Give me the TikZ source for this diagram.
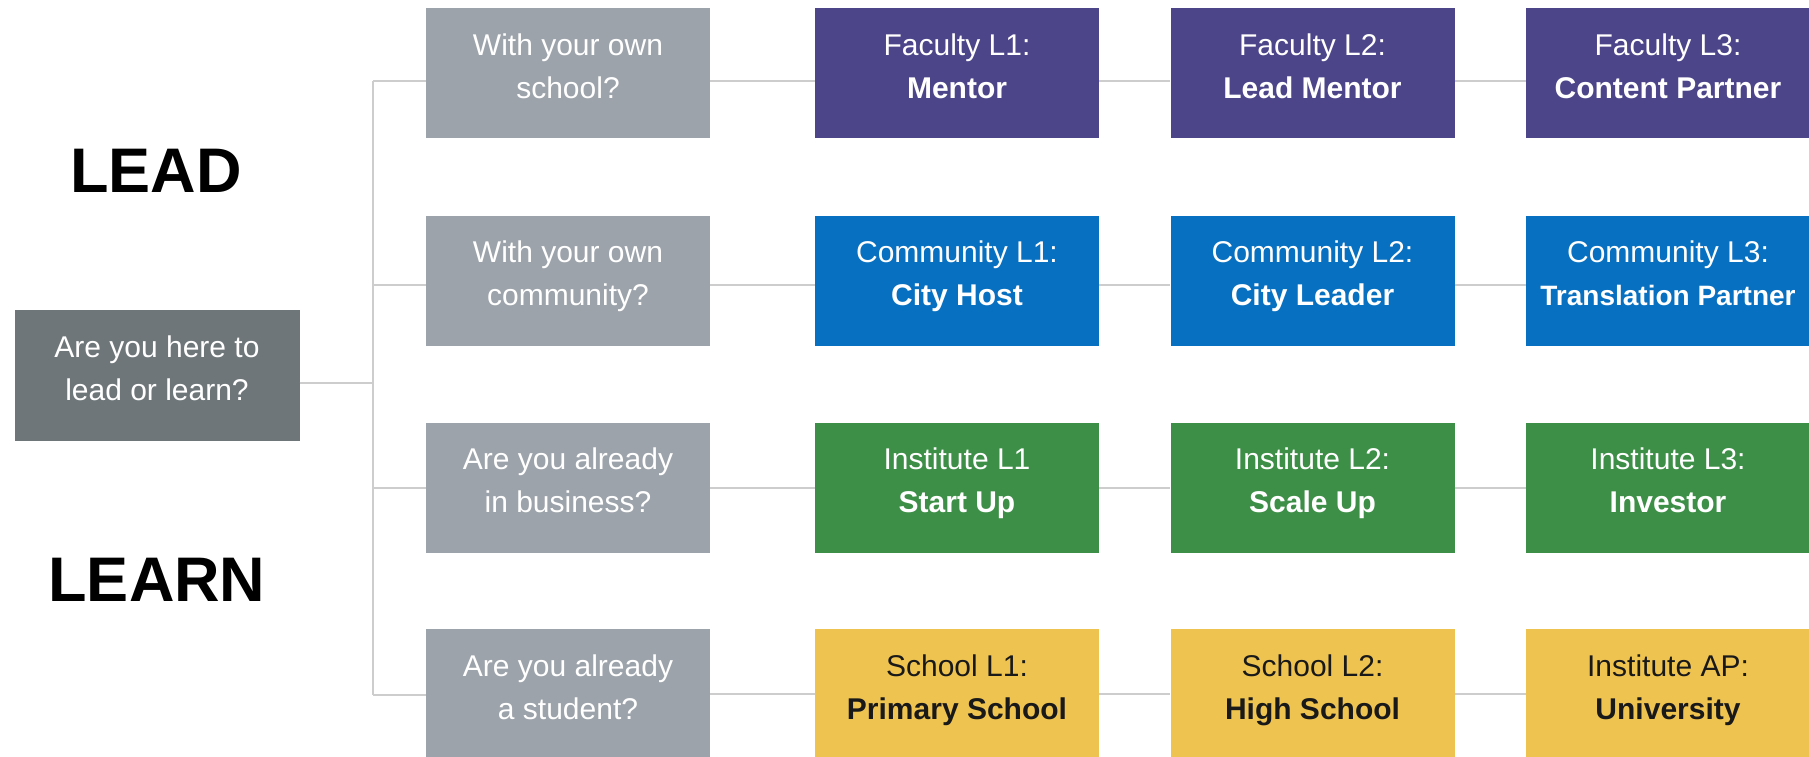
\documentclass[tikz,border=0pt]{standalone}
\usepackage{fontspec}
\setmainfont{Liberation Sans}

\definecolor{rootgray}{HTML}{6F767A}
\definecolor{askgray}{HTML}{9DA3AA}
\definecolor{faculty}{HTML}{4C4589}
\definecolor{community}{HTML}{0870C0}
\definecolor{institute}{HTML}{3D8F47}
\definecolor{school}{HTML}{EFC350}
\definecolor{linegray}{HTML}{CDCDCD}

\newcommand\twolines[2]{\raisebox{5pt}[\height][\depth]{\begin{tabular}{@{}c@{}}#1\\#2\end{tabular}}}

\begin{document}
\begin{tikzpicture}[x=1pt,y=-1pt,
  box/.style={minimum width=284pt, minimum height=130pt, inner sep=0pt, text=white, font=\fontsize{30}{43}\selectfont},
  link/.style={draw=linegray, line width=2pt}]
\useasboundingbox (0,0) rectangle (1809,757);

\node[box, fill=rootgray, minimum width=285pt, minimum height=131pt] (root) at (157,375.5) {\twolines{Are you here to}{lead or learn?}};

\node[font=\fontsize{63}{70}\selectfont\bfseries] (lead) at (156,171) {LEAD};
\node[font=\fontsize{63}{70}\selectfont\bfseries] (learn) at (157,580) {LEARN};

% questions
\node[box, fill=askgray] (q1) at (568,73) {\twolines{With your own}{school?}};
\node[box, fill=askgray] (q2) at (568,280.5) {\twolines{With your own}{community?}};
\node[box, fill=askgray] (q3) at (568,487.5) {\twolines{Are you already}{in business?}};
\node[box, fill=askgray] (q4) at (568,694) {\twolines{Are you already}{a student?}};

% faculty
\node[box, fill=faculty] (f1) at (957,73) {\twolines{Faculty L1:}{\textbf{Mentor}}};
\node[box, fill=faculty] (f2) at (1312.5,73) {\twolines{Faculty L2:}{\textbf{Lead Mentor}}};
\node[box, fill=faculty] (f3) at (1668,73) {\twolines{Faculty L3:}{\textbf{Content Partner}}};

% community
\node[box, fill=community] (c1) at (957,280.5) {\twolines{Community L1:}{\textbf{City Host}}};
\node[box, fill=community] (c2) at (1312.5,280.5) {\twolines{Community L2:}{\textbf{City Leader}}};
\node[box, fill=community] (c3) at (1668,280.5) {\twolines{Community L3:}{\fontsize{28}{43}\selectfont\textbf{Translation Partner}}};

% institute
\node[box, fill=institute] (i1) at (957,487.5) {\twolines{Institute L1}{\textbf{Start Up}}};
\node[box, fill=institute] (i2) at (1312.5,487.5) {\twolines{Institute L2:}{\textbf{Scale Up}}};
\node[box, fill=institute] (i3) at (1668,487.5) {\twolines{Institute L3:}{\textbf{Investor}}};

% school
\node[box, fill=school, text=black!90] (s1) at (957,694) {\twolines{School L1:}{\textbf{Primary School}}};
\node[box, fill=school, text=black!90] (s2) at (1312.5,694) {\twolines{School L2:}{\textbf{High School}}};
\node[box, fill=school, text=black!90] (s3) at (1668,694) {\twolines{Institute AP:}{\textbf{University}}};

% tree lines
\coordinate (spinetop) at (373,81);
\coordinate (spinebot) at (373,695);
\draw[link] (spinetop) -- (spinebot);
\draw[link] ([yshift=-7.5pt]root.east) -- ([yshift=-7.5pt]root.east -| spinetop);
\draw[link] (spinetop) -- ([yshift=-8pt]q1.west);
\draw[link] ([yshift=-4.5pt]q2.west -| spinetop) -- ([yshift=-4.5pt]q2.west);
\draw[link] (q3.west -| spinetop) -- (q3.west);
\draw[link] (spinebot) -- (q4.west |- spinebot);

\draw[link] ([yshift=-8pt]q1.east) -- ([yshift=-8pt]f1.west);
\draw[link] ([yshift=-8pt]f1.east) -- ([yshift=-8pt]f2.west);
\draw[link] ([yshift=-8pt]f2.east) -- ([yshift=-8pt]f3.west);
\draw[link] ([yshift=-4.5pt]q2.east) -- ([yshift=-4.5pt]c1.west);
\draw[link] ([yshift=-4.5pt]c1.east) -- ([yshift=-4.5pt]c2.west);
\draw[link] ([yshift=-4.5pt]c2.east) -- ([yshift=-4.5pt]c3.west);
\draw[link] (q3) -- (i1);
\draw[link] (i1) -- (i2);
\draw[link] (i2) -- (i3);
\draw[link] (q4) -- (s1);
\draw[link] (s1) -- (s2);
\draw[link] (s2) -- (s3);

\end{tikzpicture}
\end{document}
